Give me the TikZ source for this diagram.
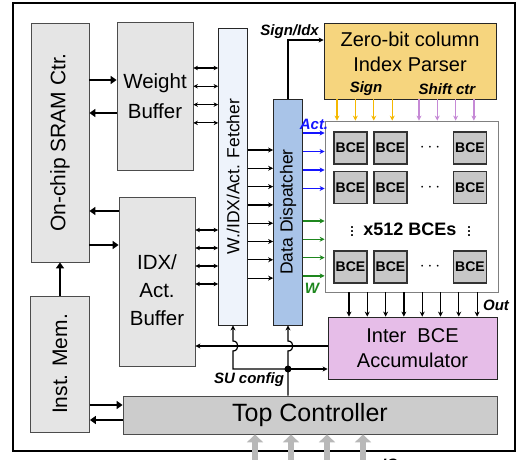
\documentclass[tikz,border=0pt]{standalone}
\usepackage{fontspec}
\setmainfont{Liberation Sans}
\usetikzlibrary{arrows.meta}

\definecolor{fetchblue}{HTML}{EEF3FB}
\definecolor{dispblue}{HTML}{A9C4E8}
\definecolor{parsergold}{HTML}{F6D57E}
\definecolor{accpurple}{HTML}{E6BDE8}
\definecolor{actblue}{HTML}{1414FF}
\definecolor{wgreen}{HTML}{1E871E}
\definecolor{signorange}{HTML}{F5B800}
\definecolor{shiftpurple}{HTML}{C68AD6}

\begin{document}
\begin{tikzpicture}[x=1pt, y=-1pt,
    blk/.style={draw=black!70, fill=black!10, line width=0.8pt, inner sep=0pt},
    bus/.style={line width=2.4pt, -{Triangle[length=6pt,width=8pt]}},
    dbl/.style={line width=1.2pt, {Stealth[length=4.5pt,width=4.5pt]}-{Stealth[length=4.5pt,width=4.5pt]}},
    sig/.style={line width=1.2pt, -{Stealth[length=5pt,width=5pt]}},
    lbl/.style={font=\fontsize{15}{15}\selectfont\bfseries\itshape, inner sep=0pt},
    bcebox/.style={draw=black!80, fill=black!22, line width=1.2pt, minimum width=33pt, minimum height=32pt, inner sep=0pt, font=\fontsize{14}{14}\selectfont\bfseries},
    iobus/.style={line width=6.5pt, draw=black!28, {Triangle[length=8pt,width=16pt]}-{Triangle[length=8pt,width=16pt]}}]
    \useasboundingbox (0,0) rectangle (520,460);

    % Frame
    \draw[line width=1.5pt] (13,3) rectangle (515,451);

    % Memories and buffers
    \node[blk, minimum width=58pt, minimum height=239pt, font=\fontsize{21}{21}\selectfont] (sram) at (60,142.5) {\rotatebox{90}{On-chip SRAM Ctr.}};
    \node[blk, minimum width=59pt, minimum height=136pt, font=\fontsize{21}{21}\selectfont] (inst) at (60,364) {\rotatebox{90}{Inst. Mem.}};
    \node[blk, minimum width=76pt, minimum height=148pt, align=center, font=\fontsize{20.5}{30}\selectfont] (wbuf) at (155,96) {Weight\\Buffer};
    \node[blk, minimum width=76pt, minimum height=169pt] (ibuf) at (157,281.5) {};
    \node[align=center, font=\fontsize{20.5}{28}\selectfont] (ibuftxt) at (157,290) {IDX/\\Act.\\Buffer};
    \node[blk, fill=black!20, minimum width=374pt, minimum height=38pt, font=\fontsize{25}{25}\selectfont] (top) at (310,415) {Top Controller};

    % Fetcher and dispatcher
    \node[blk, draw=black!85, fill=fetchblue, minimum width=29pt, minimum height=297pt, font=\fontsize{17.5}{17.5}\selectfont] (fetch) at (233,176.5) {\rotatebox{90}{W./IDX/Act. Fetcher}};
    \node[blk, draw=black!85, fill=dispblue, minimum width=29pt, minimum height=226pt, font=\fontsize{17.5}{17.5}\selectfont] (disp) at (288,212) {\rotatebox{90}{Data Dispatcher}};

    % Parser, BCE array, accumulator
    \node[blk, draw=black!85, fill=parsergold, minimum width=172pt, minimum height=76pt] (parser) at (410,61) {};
    \node[align=center, font=\fontsize{20}{25}\selectfont] (parsertxt) at (410,52) {Zero-bit column\\Index Parser};
    \node[blk, draw=black!50, fill=white, minimum width=173pt, minimum height=171pt] (array) at (411.5,206.5) {};
    \node[blk, draw=black!85, fill=accpurple, minimum width=169pt, minimum height=62pt, align=center, font=\fontsize{20}{25}\selectfont] (acc) at (412.5,348) {Inter\ \ BCE\\Accumulator};

    % BCE grid
    \foreach \r/\y in {1/148,2/187.5,3/267}{
        \foreach \c/\x in {1/350.5,2/390.5,4/470}
            \node[bcebox] (bce-\r-\c) at (\x,\y) {BCE};
        \node[font=\fontsize{18}{18}\selectfont] (dots-\r) at (430,\y) {$\cdots$};
    }
    \node[inner sep=0pt, font=\fontsize{18}{18}\selectfont\bfseries] (count) at (410,229) {x512 BCEs};
    \node[inner sep=0pt, font=\fontsize{18}{18}\selectfont] (vdl) at (352,229) {$\vdots$};
    \node[inner sep=0pt, font=\fontsize{18}{18}\selectfont] (vdr) at (469,229) {$\vdots$};

    % SRAM links
    \draw[bus] (sram.east |- 0,80) -- (wbuf.west |- 0,80);
    \draw[bus] (wbuf.west |- 0,113) -- (sram.east |- 0,113);
    \draw[bus] (ibuf.west |- 0,211) -- (sram.east |- 0,211);
    \draw[bus] (sram.east |- 0,245) -- (ibuf.west |- 0,245);
    \draw[bus] (inst.north) -- (sram.south);
    \draw[bus] (inst.east |- 0,405) -- (top.west |- 0,405);
    \draw[bus] (top.west |- 0,420) -- (inst.east |- 0,420);

    % Buffers <-> fetcher
    \foreach \y in {68,86.3,104.6,122.9}
        \draw[dbl] (wbuf.east |- 0,\y) -- (fetch.west |- 0,\y);
    \foreach \y in {230,248,266,284}
        \draw[dbl] (ibuf.east |- 0,\y) -- (fetch.west |- 0,\y);

    % Fetcher -> dispatcher
    \foreach \i in {0,...,7}
        \draw[sig] (fetch.east |- 0,150+18.3*\i) -- (disp.west |- 0,150+18.3*\i);

    % Dispatcher -> array
    \foreach \i in {0,...,3}{
        \draw[sig, actblue] (disp.east |- 0,133+18.5*\i) -- (array.west |- 0,133+18.5*\i);
        \draw[sig, wgreen] (disp.east |- 0,221+18.3*\i) -- (array.west |- 0,221+18.3*\i);
    }
    \node[lbl, text=actblue] (actlbl) at (314,124) {Act.};
    \node[lbl, text=wgreen] (wlbl) at (312,288) {W};

    % Parser -> array
    \foreach \i in {0,...,3}{
        \draw[sig, signorange] (parser.south -| 337+18.4*\i,0) -- (array.north -| 337+18.4*\i,0);
        \draw[sig, shiftpurple] (parser.south -| 419+18.3*\i,0) -- (array.north -| 419+18.3*\i,0);
    }
    \node[lbl] (signlbl) at (366,89) {Sign};
    \node[lbl] (shiftlbl) at (447,89) {Shift ctr};

    % Dispatcher -> parser
    \draw[sig] (disp.north) |- (parser.west |- 0,40);
    \node[lbl, anchor=east] (idxlbl) at (319,32) {Sign/Idx};

    % Array -> accumulator
    \foreach \i in {0,...,7}
        \draw[sig] (array.south -| 349+18.3*\i,0) -- (acc.north -| 349+18.3*\i,0);
    \node[lbl] (outlbl) at (496,305) {Out};

    % Accumulator -> IDX/Act. buffer
    \draw[sig] (acc.west |- 0,346) -- (ibuf.east |- 0,346);

    % SU config
    \coordinate (su) at (288,369);
    \draw[sig] (top.north -| su) -- (288,351) .. controls (294.5,351) and (294.5,341) .. (288,341) -- (disp.south);
    \draw[sig] (su) -- (233,369) -- (233,351) .. controls (239.5,351) and (239.5,341) .. (233,341) -- (fetch.south);
    \draw[sig] (su) -- (acc.west |- su);
    \fill (su) circle (3.5pt);
    \node[lbl] (sulbl) at (249,380) {SU config};

    % IO
    \foreach \i in {0,...,3}
        \draw[iobus] (top.south -| 255+36*\i,0) -- (255+36*\i,480);
    \node[lbl] (iolbl) at (390,464) {IO};
\end{tikzpicture}
\end{document}
